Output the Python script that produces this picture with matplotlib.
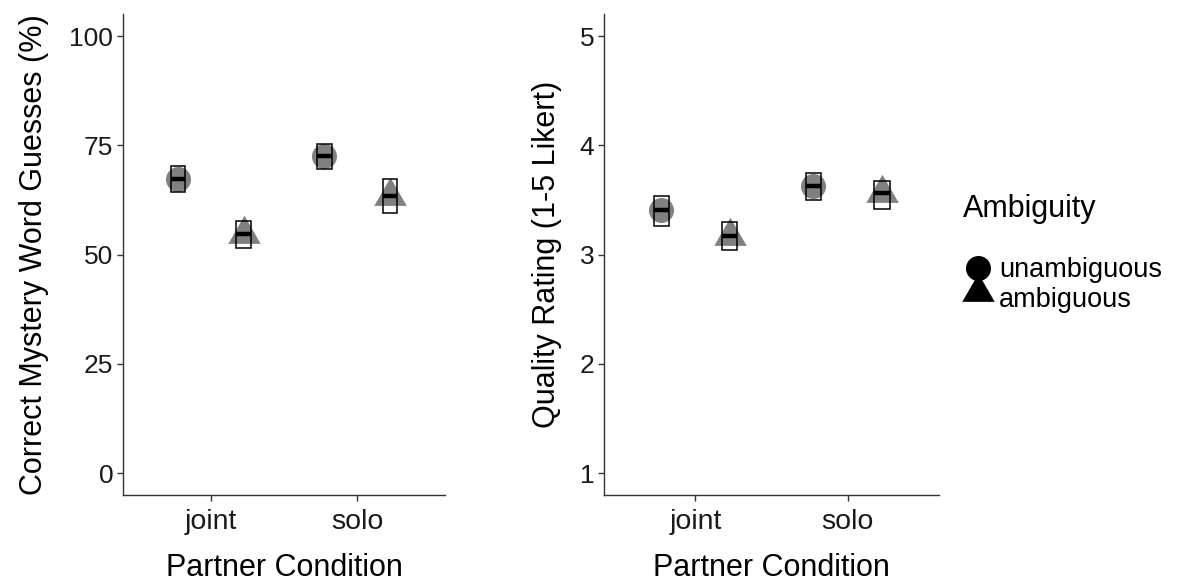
import matplotlib
matplotlib.use("Agg")
import matplotlib.pyplot as plt
import numpy as np
from matplotlib.lines import Line2D

plt.rcParams['font.family'] = ['Liberation Sans', 'DejaVu Sans']

# data
conditions = ['joint', 'solo']
ambiguity = ['unambiguous', 'ambiguous']

# guesses (%) : rows = condition, cols = ambiguity
guess_mean = [[67.4, 54.6], [72.6, 63.5]]
guess_lo = [[64.4, 51.4], [69.5, 59.6]]
guess_hi = [[70.3, 57.6], [75.4, 67.3]]

# quality rating (1-5)
rating_mean = [[3.41, 3.17], [3.63, 3.56]]
rating_lo = [[3.26, 3.04], [3.50, 3.42]]
rating_hi = [[3.54, 3.30], [3.75, 3.67]]

grey = '#808080'
tri = [(-1, -0.577), (1, -0.577), (0, 1.155)]
markers = {'unambiguous': ('o', 18), 'ambiguous': (tri, 27)}
dodge = 0.225
box_w = 0.1

W, H = 1177, 585


def draw_panel(ax, mean, lo, hi, ylim, yticks, ylabel, ypad):
    for i, cond in enumerate(conditions):
        for j, amb in enumerate(ambiguity):
            x = i + 1 + (-dodge if j == 0 else dodge)
            m, ms = markers[amb]
            ax.plot(x, mean[i][j], marker=m, markersize=ms, color=grey,
                    markeredgewidth=0, linestyle='none', zorder=2)
            # crossbar
            ax.add_patch(plt.Rectangle((x - box_w / 2, lo[i][j]), box_w,
                                       hi[i][j] - lo[i][j], fill=False,
                                       edgecolor='black', lw=1.1, zorder=3))
            ax.plot([x - box_w / 2, x + box_w / 2], [mean[i][j]] * 2,
                    color='black', lw=3.2, solid_capstyle='butt', zorder=4)
    ax.set_xlim(0.4, 2.6)
    ax.set_ylim(*ylim)
    ax.set_xticks([1, 2])
    ax.set_xticklabels(conditions)
    ax.set_yticks(yticks)
    ax.set_xlabel('Partner Condition', fontsize=22, labelpad=13)
    ax.set_ylabel(ylabel, fontsize=22, labelpad=ypad)
    for s in ['top', 'right']:
        ax.spines[s].set_visible(False)
    for s in ['left', 'bottom']:
        ax.spines[s].set_color('#333333')
        ax.spines[s].set_linewidth(1.0)
    ax.tick_params(length=4, width=1, color='#333333', labelcolor='#1a1a1a')
    ax.tick_params(axis='x', labelsize=20.5, pad=6)
    ax.tick_params(axis='y', labelsize=19, pad=3)


fig = plt.figure(figsize=(W / 100, H / 100), dpi=100)
ax1 = fig.add_axes([0.1045, 0.1538, 0.2736, 0.822])
ax2 = fig.add_axes([0.5132, 0.1538, 0.2846, 0.822])

draw_panel(ax1, guess_mean, guess_lo, guess_hi, (-5, 105), [0, 25, 50, 75, 100],
           'Correct Mystery Word Guesses (%)', 15)
draw_panel(ax2, rating_mean, rating_lo, rating_hi, (0.8, 5.2), [1, 2, 3, 4, 5],
           'Quality Rating (1-5 Likert)', 13)

# legend, placed by hand (pixel positions from the top-left)
def fx(px):
    return px / W


def fy(py):
    return 1 - py / H


fig.text(fx(963), fy(209), 'Ambiguity', fontsize=22, va='center', ha='left')
leg_y = [270, 300]
leg_ms = [('o', 18), (tri, 27)]
for (m, ms), lab, py in zip(leg_ms, ambiguity, leg_y):
    fig.add_artist(Line2D([fx(978)], [fy(py - 2 if m == 'o' else py - 8)],
                          marker=m, markersize=ms, color='black',
                          markeredgewidth=0, linestyle='none',
                          transform=fig.transFigure))
    fig.text(fx(999), fy(py), lab, fontsize=19.5, va='center', ha='left')

fig.savefig('out.png', dpi=100)
